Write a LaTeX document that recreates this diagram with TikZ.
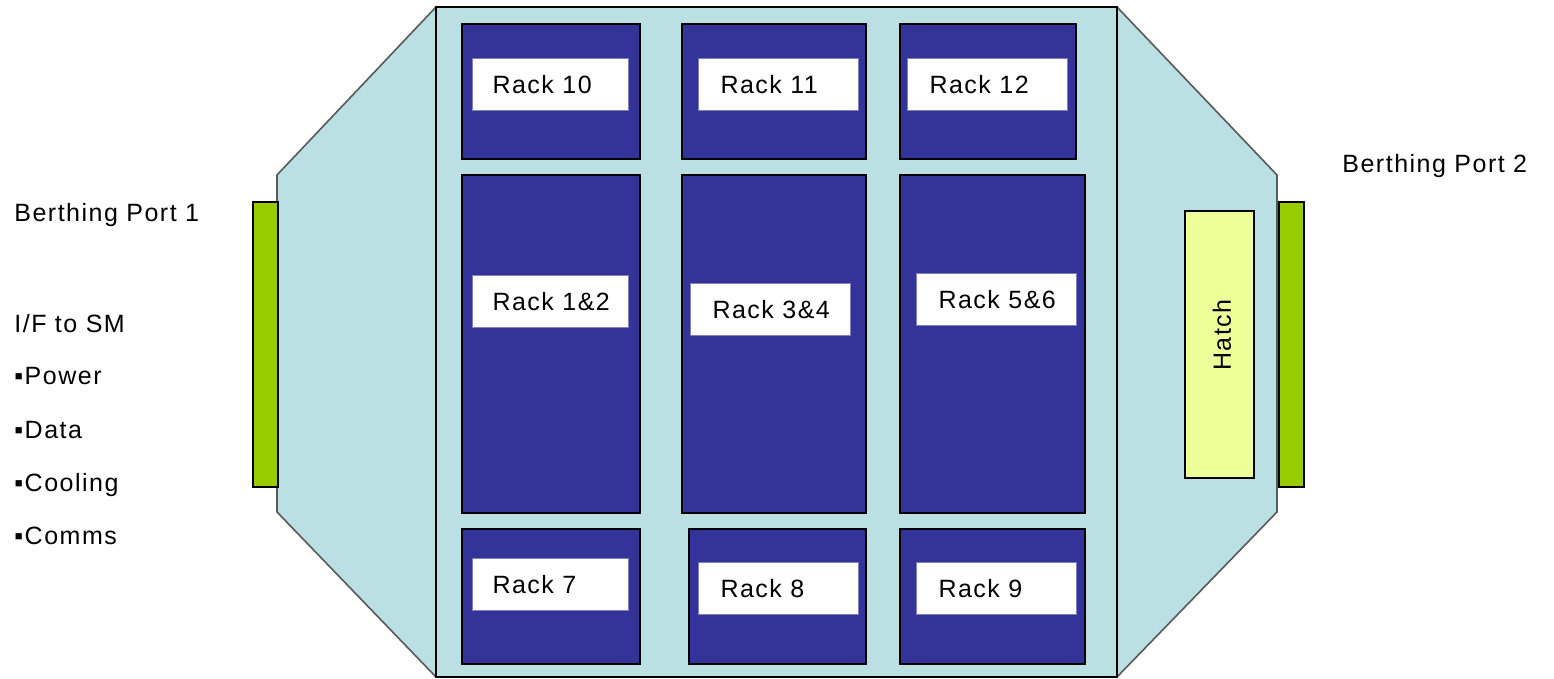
\documentclass[tikz,border=0pt]{standalone}
\usepackage{fontspec}
\setmainfont{Liberation Sans}[LetterSpace=6]
\definecolor{hull}{HTML}{BBE0E3}
\definecolor{rackblue}{HTML}{333399}
\definecolor{portgreen}{HTML}{99CC00}
\definecolor{hatchyellow}{HTML}{EEFF99}
\definecolor{lblborder}{HTML}{8080C0}
\newcommand{\lbltext}[1]{\makebox[58pt][l]{#1}}
\begin{document}
\begin{tikzpicture}[x=0.5pt,y=-0.5pt,
  every node/.style={font=\fontsize{12.5}{15}\selectfont},
  rack/.style={draw=black, line width=0.9pt, fill=rackblue, anchor=north west, inner sep=0pt, minimum width=89pt},
  toprow/.style={minimum height=67.5pt},
  midrow/.style={minimum height=169pt},
  lbl/.style={draw=lblborder, line width=0.5pt, fill=white, anchor=north west, inner xsep=10pt, inner ysep=0pt, minimum height=26pt},
  port/.style={draw=black, line width=0.9pt, fill=portgreen, anchor=north west, inner sep=0pt, minimum width=12.5pt, minimum height=142.5pt},
  txt/.style={anchor=base west, inner sep=0pt}
]
\useasboundingbox (0,0) rectangle (1554,679);
% hull
\draw[fill=hull, draw=black!65, line width=0.8pt]
  (436,7) -- (1117,7) -- (1277,175) -- (1277,512) -- (1117,677) -- (436,677) -- (277,512) -- (277,175) -- cycle;
\draw[black, line width=1pt] (436,7) rectangle (1117,677);
% ports
\node[port] (portL) at (252,201) {};
\node[port] (portR) at (1278,201) {};
% hatch
\node[draw=black, line width=0.9pt, fill=hatchyellow, anchor=north west, minimum width=34.5pt, minimum height=133.5pt, inner sep=0pt] (hatch) at (1184,210) {};
\node[rotate=90, inner sep=0pt] (hatchtxt) at (1222,335) {Hatch};
% racks
\node[rack, toprow] (r10) at (461,23) {};
\node[rack, toprow, minimum width=92pt] (r11) at (681,23) {};
\node[rack, toprow, minimum width=88pt] (r12) at (899,23) {};
\node[rack, midrow] (r12b) at (461,174) {};
\node[rack, midrow, minimum width=92pt] (r34) at (681,174) {};
\node[rack, midrow, minimum width=92.5pt] (r56) at (899,174) {};
\node[rack, toprow] (r7) at (461,528) {};
\node[rack, toprow, minimum width=88.5pt] (r8) at (688,528) {};
\node[rack, toprow, minimum width=92.5pt] (r9) at (899,528) {};
% labels
\node[lbl] (l10) at (472,58) {\lbltext{Rack 10}};
\node[lbl, inner xsep=11pt] (l11) at (698,58) {\lbltext{Rack 11}};
\node[lbl, inner xsep=11pt] (l12) at (907,58) {\lbltext{Rack 12}};
\node[lbl] (l12b) at (472,275) {\lbltext{Rack 1\&2}};
\node[lbl, inner xsep=11pt] (l34) at (690,283) {\lbltext{Rack 3\&4}};
\node[lbl, inner xsep=11pt] (l56) at (916,273) {\lbltext{Rack 5\&6}};
\node[lbl] (l7) at (472,558) {\lbltext{Rack 7}};
\node[lbl, inner xsep=11pt] (l8) at (698,562) {\lbltext{Rack 8}};
\node[lbl, inner xsep=11pt] (l9) at (916,562) {\lbltext{Rack 9}};
% side texts
\node[txt] (bp1) at (14,222) {Berthing Port 1};
\node[txt] (ifsm) at (14,333) {I/F to SM};
\node[txt] (pw) at (14,385) {▪Power};
\node[txt] (dt) at (14,438) {▪Data};
\node[txt] (cl) at (14,491) {▪Cooling};
\node[txt] (cm) at (14,544) {▪Comms};
\node[txt] (bp2) at (1342,173) {Berthing Port 2};
\end{tikzpicture}
\end{document}
